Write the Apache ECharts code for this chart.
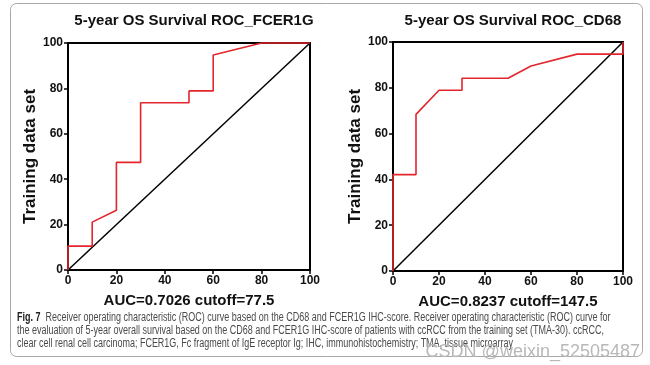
<!DOCTYPE html>
<html><head><meta charset="utf-8">
<script src="https://cdn.jsdelivr.net/npm/echarts@6/dist/echarts.min.js"></script>
<style>html,body{margin:0;padding:0;background:#fff}#c{width:650px;height:365px}</style>
</head><body><div id="c"></div>
<script>
// ---- data ----
const titleLeft = '5-year OS Survival ROC_FCER1G';
const titleRight = '5-year OS Survival ROC_CD68';
const yName = 'Training data set';
const xNameLeft = 'AUC=0.7026 cutoff=77.5';
const xNameRight = 'AUC=0.8237 cutoff=147.5';
// FCER1G ROC (100-specificity %, sensitivity %)
const fcer1gX = [0, 0, 10, 10, 20, 20, 30, 30, 50, 50, 60, 60, 80, 100];
const fcer1gY = [0, 10.5, 10.5, 21.1, 26.3, 47.4, 47.4, 73.7, 73.7, 78.9, 78.9, 94.7, 100, 100];
// CD68 ROC
const cd68X = [0, 0, 10, 10, 20, 30, 30, 50, 60, 80, 100, 100];
const cd68Y = [0, 42.1, 42.1, 68.4, 78.9, 78.9, 84.2, 84.2, 89.5, 94.7, 94.7, 100];
const diagX = [0, 100];
const diagY = [0, 100];
const captionBold = 'Fig. 7';
const captionLines = [
  'Receiver operating characteristic (ROC) curve based on the CD68 and FCER1G IHC-score. Receiver operating characteristic (ROC) curve for',
  'the evaluation of 5-year overall survival based on the CD68 and FCER1G IHC-score of patients with ccRCC from the training set (TMA-30). ccRCC,',
  'clear cell renal cell carcinoma; FCER1G, Fc fragment of IgE receptor Ig; IHC, immunohistochemistry; TMA, tissue microarray'
];
const watermark = 'CSDN @weixin_52505487';

// ---- build ----
const FF = '"Liberation Sans", Arial, sans-serif';
const pairs = (xs, ys) => xs.map((x, i) => [x, ys[i]]);
const RED = '#e3262d';

function mkX(gi, name) {
  return {
    type: 'value', gridIndex: gi, min: 0, max: 100, interval: 20,
    name: name, nameLocation: 'middle', nameGap: 23,
    nameTextStyle: {fontFamily: FF, fontWeight: 'bold', fontSize: 15, color: '#111'},
    axisLine: {show: true, onZero: false, lineStyle: {color: '#000', width: 2}},
    axisTick: {show: true, length: 4, lineStyle: {color: '#000', width: 1.5}},
    axisLabel: {fontFamily: FF, fontWeight: 'bold', fontSize: 12, color: '#111', margin: 5},
    splitLine: {show: false}
  };
}
function mkY(gi) {
  return {
    type: 'value', gridIndex: gi, min: 0, max: 100, interval: 20,
    name: yName, nameLocation: 'middle', nameGap: 29, nameRotate: 90,
    nameTextStyle: {fontFamily: FF, fontWeight: 'bold', fontSize: 17, color: '#111'},
    axisLine: {show: true, onZero: false, lineStyle: {color: '#000', width: 2}},
    axisTick: {show: true, length: 4, lineStyle: {color: '#000', width: 1.5}},
    axisLabel: {fontFamily: FF, fontWeight: 'bold', fontSize: 12, color: '#111', margin: 5},
    splitLine: {show: false}
  };
}
function ln(gi, data, color, w) {
  return {type: 'line', xAxisIndex: gi, yAxisIndex: gi, data: data, symbol: 'none',
    clip: false, animation: false, z: 5,
    lineStyle: {color: color, width: w}};
}

// caption scale to fit measured width
const CAPF = '12px "Liberation Sans"';
const cctx = document.createElement('canvas').getContext('2d');
cctx.font = CAPF;
const w2 = cctx.measureText(captionLines[1]).width;
const capScale = 587 / w2;

const chart = echarts.init(document.getElementById('c'), null, {renderer: 'canvas'});
chart.setOption({
  animation: false,
  title: [
    {text: titleLeft, left: 189, top: 8, textAlign: 'center',
     textStyle: {fontFamily: FF, fontWeight: 'bold', fontSize: 15, color: '#111'}},
    {text: titleRight, left: 508, top: 8, textAlign: 'center',
     textStyle: {fontFamily: FF, fontWeight: 'bold', fontSize: 15, color: '#111'}}
  ],
  grid: [
    {left: 68, top: 43, width: 242, height: 227, show: true, borderColor: '#000', borderWidth: 2, backgroundColor: 'transparent'},
    {left: 393, top: 42, width: 230, height: 229, show: true, borderColor: '#000', borderWidth: 2, backgroundColor: 'transparent'}
  ],
  xAxis: [mkX(0, xNameLeft), mkX(1, xNameRight)],
  yAxis: [mkY(0), mkY(1)],
  series: [
    ln(0, pairs(diagX, diagY), '#000', 1.5),
    ln(0, pairs(fcer1gX, fcer1gY), RED, 1.6),
    ln(1, pairs(diagX, diagY), '#000', 1.5),
    ln(1, pairs(cd68X, cd68Y), RED, 1.6)
  ],
  graphic: [
    {type: 'rect', shape: {x: 10.5, y: 3.5, width: 632, height: 353, r: 6}, silent: true,
     style: {fill: 'none', stroke: '#a8a8a8', lineWidth: 1}, z: -1},
    {type: 'group', x: 17, y: 0, scaleX: capScale, children: [
      {type: 'text', x: 0, y: 318, style: {
        text: '{b|' + captionBold + '}  ' + captionLines[0],
        font: CAPF, fill: '#4a4a4a', verticalAlign: 'middle',
        rich: {b: {fontFamily: '"Liberation Sans"', fontWeight: 'bold', fontSize: 12, fill: '#222', verticalAlign: 'middle'}}}},
      {type: 'text', x: 0, y: 331, style: {text: captionLines[1], font: CAPF, fill: '#4a4a4a', verticalAlign: 'middle'}},
      {type: 'text', x: 0, y: 344, style: {text: captionLines[2], font: CAPF, fill: '#4a4a4a', verticalAlign: 'middle'}}
    ]},
    {type: 'text', right: 10, top: 343, z: 10, style: {text: watermark, font: '18px "Liberation Sans"', fill: '#b8b8b8'}}
  ]
});
</script></body></html>
